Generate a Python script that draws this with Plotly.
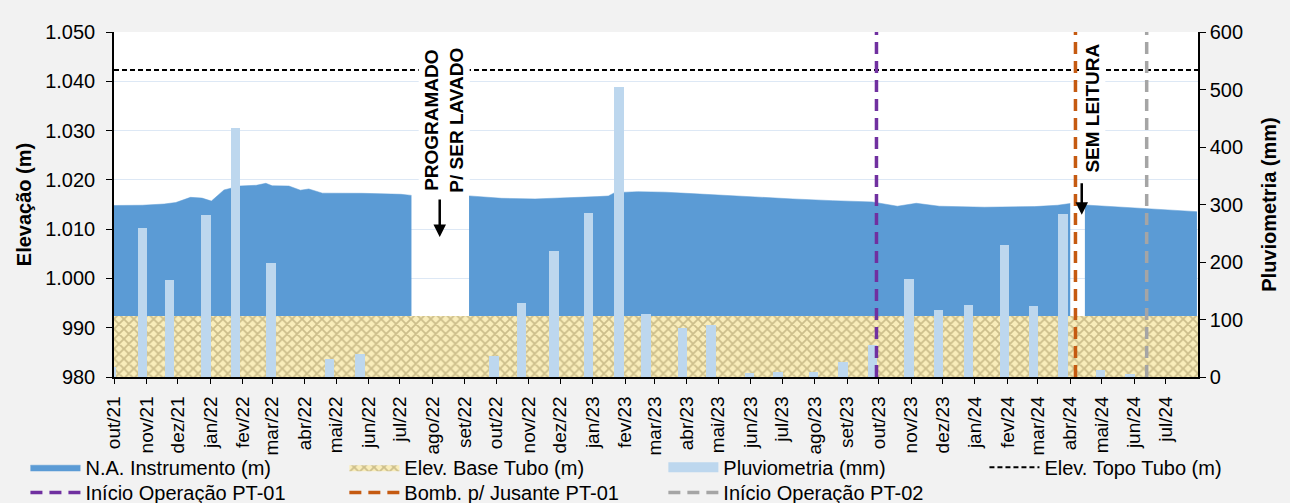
import plotly.graph_objects as go

# ---------------- data ----------------
month_ticks = ["2021-10-01", "2021-11-01", "2021-12-01", "2022-01-01", "2022-02-01", "2022-03-01",
               "2022-04-01", "2022-05-01", "2022-06-01", "2022-07-01", "2022-08-01", "2022-09-01",
               "2022-10-01", "2022-11-01", "2022-12-01", "2023-01-01", "2023-02-01", "2023-03-01",
               "2023-04-01", "2023-05-01", "2023-06-01", "2023-07-01", "2023-08-01", "2023-09-01",
               "2023-10-01", "2023-11-01", "2023-12-01", "2024-01-01", "2024-02-01", "2024-03-01",
               "2024-04-01", "2024-05-01", "2024-06-01", "2024-07-01"]
month_labels = ["out/21", "nov/21", "dez/21", "jan/22", "fev/22", "mar/22", "abr/22", "mai/22",
                "jun/22", "jul/22", "ago/22", "set/22", "out/22", "nov/22", "dez/22", "jan/23",
                "fev/23", "mar/23", "abr/23", "mai/23", "jun/23", "jul/23", "ago/23", "set/23",
                "out/23", "nov/23", "dez/23", "jan/24", "fev/24", "mar/24", "abr/24", "mai/24",
                "jun/24", "jul/24"]

# N.A. Instrumento (m) ; None = sem leitura
na_dates = ["2021-10-01", "2021-10-28", "2021-11-18", "2021-11-29", "2021-12-13", "2021-12-24",
            "2022-01-02", "2022-01-14", "2022-01-29", "2022-02-14", "2022-02-23", "2022-03-01",
            "2022-03-17", "2022-03-28", "2022-04-05", "2022-04-18", "2022-05-26", "2022-06-21",
            "2022-07-02", "2022-07-12", "2022-07-13",
            "2022-09-05", "2022-10-06", "2022-11-07", "2022-12-12", "2023-01-06", "2023-01-16",
            "2023-01-22", "2023-02-13", "2023-03-11", "2023-03-31", "2023-04-29", "2023-06-03",
            "2023-07-11", "2023-08-18", "2023-09-25", "2023-10-19", "2023-11-06", "2023-11-28",
            "2024-01-10", "2024-02-27", "2024-03-20", "2024-04-01", "2024-04-02",
            "2024-04-15", "2024-06-02", "2024-07-31"]
na_values = [1014.8, 1014.85, 1015.1, 1015.4, 1016.45, 1016.3,
             1015.7, 1017.95, 1018.75, 1018.9, 1019.3, 1018.8,
             1018.75, 1017.9, 1018.15, 1017.3, 1017.27, 1017.15,
             1017.07, 1016.85, None,
             1016.75, 1016.26, 1016.13, 1016.33, 1016.6, 1016.73,
             1017.4, 1017.6, 1017.5, 1017.27, 1016.94, 1016.47,
             1016.13, 1015.78, 1015.52, 1014.65, 1015.25, 1014.65,
             1014.45, 1014.57, 1014.85, 1015.2, None,
             1014.9, 1014.3, 1013.55]

base_tubo = 992.4
topo_tubo = 1042.3
x_start, x_end = "2021-10-01", "2024-08-01"

# Pluviometria (mm)
pluv_dates = ["2021-09-28", "2021-10-28", "2021-11-23", "2021-12-28", "2022-01-25", "2022-02-28",
              "2022-04-25", "2022-05-24", "2022-09-29", "2022-10-25", "2022-11-25", "2022-12-28",
              "2023-01-26", "2023-02-21", "2023-03-28", "2023-04-24", "2023-05-31", "2023-06-27",
              "2023-07-31", "2023-08-28", "2023-09-25", "2023-10-30", "2023-11-27", "2023-12-26",
              "2024-01-29", "2024-02-26", "2024-03-25", "2024-04-30", "2024-05-28"]
pluv_mm = [18, 260, 169, 281, 433, 199,
           31, 40, 36, 128, 220, 286,
           505, 109, 86, 91, 7, 8,
           9, 26, 56, 171, 117, 125,
           229, 123, 283, 12, 6]

inicio_pt01 = "2023-09-29"
bomb_pt01 = "2024-04-06"
inicio_pt02 = "2024-06-13"

# ---------------- figure ----------------
FONT = "Liberation Sans, Arial, sans-serif"
NA_COLOR = "#5B9BD5"
PLUV_COLOR = "#BDD7EE"

fig = go.Figure()

# split N.A. series into segments at gaps
segments = []
cur_x, cur_y = [], []
for d, v in zip(na_dates, na_values):
    if v is None:
        if cur_x:
            segments.append((cur_x, cur_y))
        cur_x, cur_y = [], []
    else:
        cur_x.append(d)
        cur_y.append(v)
if cur_x:
    segments.append((cur_x, cur_y))

for i, (sx, sy) in enumerate(segments):
    fig.add_trace(go.Scatter(
        x=sx, y=sy, mode="lines", fill="tozeroy", fillcolor=NA_COLOR,
        line=dict(color=NA_COLOR, width=0.5), name="N.A. Instrumento (m)",
        legendgroup="na", showlegend=(i == 0), legend="legend", yaxis="y"))

fig.add_trace(go.Scatter(
    x=[x_start, x_end], y=[base_tubo, base_tubo], mode="lines", fill="tozeroy",
    fillcolor="#F2E6AE",
    fillpattern=dict(shape="x", fgcolor="#A08F5C", bgcolor="#F9EDBA", size=7, solidity=0.45),
    line=dict(width=0, color="#F2E6AE"), name="Elev. Base Tubo (m)", legend="legend2", yaxis="y"))

fig.add_trace(go.Bar(
    x=pluv_dates, y=pluv_mm, width=9 * 86400000, marker=dict(color=PLUV_COLOR, line=dict(width=0)),
    name="Pluviometria (mm)", showlegend=False, yaxis="y2"))
# legend swatch for the rainfall bars
fig.add_trace(go.Scatter(
    x=[None], y=[None], mode="lines", line=dict(color=PLUV_COLOR, width=14),
    name="Pluviometria (mm)", legend="legend3", yaxis="y2"))

fig.add_trace(go.Scatter(
    x=[x_start, x_end], y=[topo_tubo, topo_tubo], mode="lines",
    line=dict(color="black", width=2, dash="5px,3px"), name="Elev. Topo Tubo (m)",
    legend="legend4", yaxis="y"))

for d, c, n, lg in [(inicio_pt01, "#7030A0", "Início Operação PT-01", "legend5"),
                    (bomb_pt01, "#C55A11", "Bomb. p/ Jusante PT-01", "legend6"),
                    (inicio_pt02, "#A5A5A5", "Início Operação PT-02", "legend7")]:
    fig.add_trace(go.Scatter(
        x=[d, d], y=[0, 600], mode="lines", line=dict(color=c, width=3.5, dash="12px,7px"),
        name=n, legend=lg, yaxis="y2"))

fig.add_annotation(x="2022-08-12", y=1032.2, xref="x", yref="y",
                   text="<b>PROGRAMADO<br>P/ SER LAVADO</b>", textangle=-90, showarrow=False,
                   font=dict(family=FONT, size=19, color="black"), bgcolor="white", borderpad=2)
fig.add_annotation(x="2022-08-08", y=1008.4, xref="x", yref="y", text="", showarrow=True,
                   ax=0, ay=-39, arrowhead=2, arrowsize=1, arrowwidth=2.5, arrowcolor="black")
fig.add_annotation(x="2024-04-22", y=1034.5, xref="x", yref="y",
                   text="<b>SEM LEITURA</b>", textangle=-90, showarrow=False,
                   font=dict(family=FONT, size=19, color="black"), bgcolor="white", borderpad=2)
fig.add_annotation(x="2024-04-12", y=1012.9, xref="x", yref="y", text="", showarrow=True,
                   ax=0, ay=-33, arrowhead=2, arrowsize=1, arrowwidth=2.5, arrowcolor="black")

legend_common = dict(orientation="v", xanchor="left", yanchor="top",
                     font=dict(family=FONT, size=20, color="black"), itemwidth=50,
                     tracegroupgap=0, bgcolor="rgba(0,0,0,0)")
row1, row2 = -0.205, -0.278
col_x = [-0.0817, 0.2125, 0.5068, 0.8030]

fig.update_layout(
    width=1290, height=503,
    margin=dict(l=114, r=92, t=32, b=126, autoexpand=False),
    paper_bgcolor="#F2F2F2", plot_bgcolor="white",
    font=dict(family=FONT, size=20, color="black"),
    separators=",.",
    bargap=0,
    showlegend=True,
    legend=dict(x=col_x[0], y=row1, **legend_common),
    legend2=dict(x=col_x[1], y=row1, **legend_common),
    legend3=dict(x=col_x[2], y=row1, **legend_common),
    legend4=dict(x=col_x[3], y=row1, **legend_common),
    legend5=dict(x=col_x[0], y=row2, **legend_common),
    legend6=dict(x=col_x[1], y=row2, **legend_common),
    legend7=dict(x=col_x[2], y=row2, **legend_common),
    xaxis=dict(type="date", range=[x_start, x_end], tickvals=month_ticks, ticktext=month_labels,
               tickangle=-90, ticks="outside", ticklen=5, tickcolor="black",
               ticklabelstandoff=5,
               showline=True, linecolor="black", linewidth=1.5, showgrid=False, zeroline=False,
               tickfont=dict(size=19)),
    yaxis=dict(range=[980, 1050], dtick=10, tickformat=",.0f", ticks="outside", ticklen=6,
               tickcolor="black", showline=True, linecolor="black", linewidth=1.5,
               ticklabelstandoff=7,
               showgrid=True, gridcolor="#DDE8F5", gridwidth=1, zeroline=False,
               title=dict(text="<b>Elevação (m)</b>", font=dict(size=20), standoff=8),
               tickfont=dict(size=20)),
    yaxis2=dict(range=[0, 600], dtick=100, overlaying="y", side="right", ticks="outside",
                ticklen=6, tickcolor="black", showline=True, linecolor="black", linewidth=1.5,
                showgrid=False, zeroline=False,
                title=dict(text="<b>Pluviometria (mm)</b>", font=dict(size=20), standoff=20),
                tickfont=dict(size=20)),
)

fig.write_html("out.html", config={"displayModeBar": False},
               post_script="document.body.style.margin='0';document.body.style.padding='0';")
